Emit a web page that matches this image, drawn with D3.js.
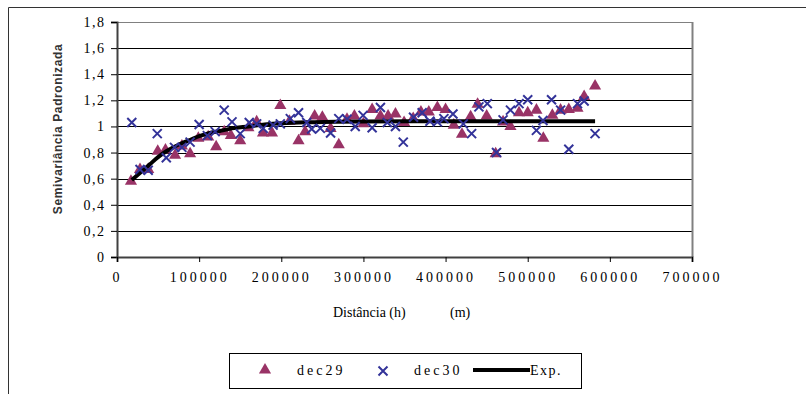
<!DOCTYPE html>
<html>
<head>
<meta charset="utf-8">
<script src="https://cdn.jsdelivr.net/npm/d3@7"></script>
<style>
  body { margin: 0; background: #fff; }
  svg { display: block; }
  .serif { font-family: "Liberation Serif", "Times New Roman", serif; }
</style>
</head>
<body>
<div id="chart"></div>
<script>
// distances (m) and standardised semivariance
const dec29Dist = [17000, 28000, 38000, 49600, 59000, 70700, 79000, 89000, 99000, 111000,
  120700, 130500, 138600, 150000, 160000, 170000, 177700, 188700, 198800, 210000,
  221000, 229000, 240600, 250000, 260000, 270000, 280000, 289000, 300000, 310600,
  320700, 330000, 339000, 349500, 360600, 370000, 379600, 390000, 400000, 410000,
  420000, 430500, 439000, 450000, 461000, 470000, 479000, 489400, 500000, 510600,
  519000, 530000, 540000, 550000, 560600, 568700, 582000];
const dec29Val = [0.58, 0.67, 0.67, 0.81, 0.82, 0.78, 0.85, 0.79, 0.91, 0.92,
  0.845, 0.96, 0.93, 0.89, 0.99, 1.035, 0.95, 0.95, 1.16, 1.04,
  0.89, 0.96, 1.08, 1.07, 0.985, 0.86, 1.055, 1.08, 1.02, 1.13,
  1.08, 1.08, 1.095, 1.03, 1.06, 1.11, 1.11, 1.145, 1.13, 1.01,
  0.94, 1.075, 1.17, 1.08, 0.79, 1.035, 1.0, 1.105, 1.105, 1.125,
  0.91, 1.085, 1.125, 1.13, 1.14, 1.23, 1.31];

const dec30Dist = [18000, 28000, 38000, 49000, 60000, 70000, 79000, 89000, 100000, 110000,
  119500, 130500, 140000, 150000, 161000, 170000, 178000, 190000, 198800, 211000,
  221000, 231000, 237000, 247500, 260000, 270000, 280000, 290000, 299600, 310600,
  320700, 329000, 339000, 348500, 361000, 371500, 381000, 390000, 398000, 409000,
  421600, 431700, 440600, 450800, 462000, 470000, 479000, 489400, 500000, 510600,
  518600, 529000, 540000, 550000, 560600, 568700, 582000];
const dec30Val = [1.03, 0.67, 0.665, 0.945, 0.76, 0.84, 0.84, 0.88, 1.015, 0.93,
  0.96, 1.125, 1.035, 0.945, 1.03, 1.02, 0.985, 1.01, 1.02, 1.06,
  1.105, 1.03, 0.98, 0.985, 0.95, 1.06, 1.055, 1.0, 1.085, 0.99,
  1.145, 1.03, 1.0, 0.88, 1.07, 1.105, 1.04, 1.035, 1.06, 1.095,
  1.02, 0.945, 1.15, 1.175, 0.8, 1.05, 1.125, 1.175, 1.205, 0.97,
  1.045, 1.205, 1.125, 0.825, 1.175, 1.195, 0.945];

// fitted exponential model, sampled from the drawn curve
const expDist = [18000, 30000, 40000, 50000, 60000, 70000, 80000, 90000, 100000, 110000,
  125000, 140000, 160000, 180000, 200000, 240000, 300000, 400000, 582000];
const expVal = [0.59, 0.655, 0.71, 0.765, 0.81, 0.845, 0.875, 0.90, 0.925, 0.945,
  0.965, 0.985, 1.0, 1.015, 1.025, 1.033, 1.038, 1.04, 1.04];

const xTicks = [0, 100000, 200000, 300000, 400000, 500000, 600000, 700000];
const yTicks = [0, 0.2, 0.4, 0.6, 0.8, 1, 1.2, 1.4, 1.6, 1.8];

const width = 806, height = 394;
const margin = { top: 22, right: 114, bottom: 137, left: 117 };

const svg = d3.select('#chart').append('svg')
  .attr('width', width)
  .attr('height', height);

// chart frame (only top and left edges show)
svg.append('path')
  .attr('d', 'M8.5,394V7.5H806')
  .attr('fill', 'none')
  .attr('stroke', '#333')
  .attr('stroke-width', 1);

const x = d3.scaleLinear().domain([0, 700000]).range([margin.left, width - margin.right]);
const y = d3.scaleLinear().domain([0, 1.8]).range([height - margin.bottom, margin.top]);

// gridlines
svg.append('g')
  .selectAll('line')
  .data(yTicks.filter(d => d > 0))
  .join('line')
  .attr('x1', x(0)).attr('x2', x(700000))
  .attr('y1', d => Math.round(y(d)) + 0.5)
  .attr('y2', d => Math.round(y(d)) + 0.5)
  .attr('stroke', d => d === 1.8 ? '#808080' : '#000')
  .attr('stroke-width', 1);

// right border of plot area
svg.append('line')
  .attr('x1', Math.round(x(700000)) + 0.5).attr('x2', Math.round(x(700000)) + 0.5)
  .attr('y1', y(1.8)).attr('y2', y(0))
  .attr('stroke', '#808080')
  .attr('stroke-width', 2);

const fmtY = d => String(d).replace('.', ',');

const yAxis = d3.axisLeft(y).tickValues(yTicks).tickSize(6).tickPadding(7).tickFormat(fmtY);
const gy = svg.append('g')
  .attr('transform', `translate(${x(0)},0)`)
  .call(yAxis);

const xAxis = d3.axisBottom(x).tickValues(xTicks).tickSize(5).tickPadding(10).tickFormat(d3.format('d'));
const gx = svg.append('g')
  .attr('transform', `translate(0,${y(0)})`)
  .call(xAxis);

[gy, gx].forEach(g => {
  g.select('.domain').attr('stroke', '#404040').attr('stroke-width', 2);
  g.selectAll('.tick line').attr('stroke', '#000');
  g.selectAll('text')
    .attr('class', 'serif')
    .attr('fill', '#000')
    .style('font-size', '14px')
    .style('letter-spacing', '3px');
});
gy.selectAll('text').style('letter-spacing', '1.5px').attr('dx', '0.1em');

// axis titles
svg.append('text')
  .attr('class', 'serif')
  .attr('x', 333)
  .attr('y', 317)
  .style('font-size', '14px')
  .text('Distância (h)');
svg.append('text')
  .attr('class', 'serif')
  .attr('x', 450)
  .attr('y', 317)
  .style('font-size', '14px')
  .text('(m)');

svg.append('text')
  .attr('transform', 'translate(62,129) rotate(-90)')
  .attr('text-anchor', 'middle')
  .style('font-family', '"Liberation Sans", Arial, sans-serif')
  .style('font-weight', 'bold')
  .style('font-size', '12px')
  .style('letter-spacing', '0.6px')
  .attr('fill', '#333')
  .text('Semivariância Padronizada');

const triColor = '#993366', crossColor = '#333399';
const tri = d3.symbol().type(d3.symbolTriangle).size(64);
const crossPath = s => `M${-s},${-s}L${s},${s}M${-s},${s}L${s},${-s}`;

// dec29 triangles
svg.append('g')
  .selectAll('path')
  .data(dec29Dist.map((d, i) => [d, dec29Val[i]]))
  .join('path')
  .attr('d', tri)
  .attr('transform', d => `translate(${x(d[0])},${y(d[1])})`)
  .attr('fill', triColor);

// exponential model
const line = d3.line().x(d => x(d[0])).y(d => y(d[1])).curve(d3.curveMonotoneX);
svg.append('path')
  .datum(expDist.map((d, i) => [d, expVal[i]]))
  .attr('d', line)
  .attr('fill', 'none')
  .attr('stroke', '#000')
  .attr('stroke-width', 4);

// dec30 crosses
svg.append('g')
  .selectAll('path')
  .data(dec30Dist.map((d, i) => [d, dec30Val[i]]))
  .join('path')
  .attr('d', crossPath(4.5))
  .attr('transform', d => `translate(${x(d[0])},${y(d[1])})`)
  .attr('fill', 'none')
  .attr('stroke', crossColor)
  .attr('stroke-width', 2);

// legend
const lg = svg.append('g');
lg.append('rect')
  .attr('x', 229.5).attr('y', 353.5)
  .attr('width', 352).attr('height', 35)
  .attr('fill', '#fff')
  .attr('stroke', '#000');

lg.append('path')
  .attr('d', tri)
  .attr('transform', 'translate(265,370)')
  .attr('fill', triColor);
lg.append('path')
  .attr('d', crossPath(4.5))
  .attr('transform', 'translate(383,371)')
  .attr('fill', 'none')
  .attr('stroke', crossColor)
  .attr('stroke-width', 2);
lg.append('line')
  .attr('x1', 473).attr('x2', 530)
  .attr('y1', 370).attr('y2', 370)
  .attr('stroke', '#000')
  .attr('stroke-width', 4);

const legendText = [['dec29', 297], ['dec30', 414], ['Exp.', 530]];
lg.selectAll('text.lbl')
  .data(legendText)
  .join('text')
  .attr('class', 'serif lbl')
  .attr('x', d => d[1])
  .attr('y', 375)
  .style('font-size', '14px')
  .style('letter-spacing', d => d[0] === 'Exp.' ? '1.5px' : '3px')
  .text(d => d[0]);
</script>
</body>
</html>
